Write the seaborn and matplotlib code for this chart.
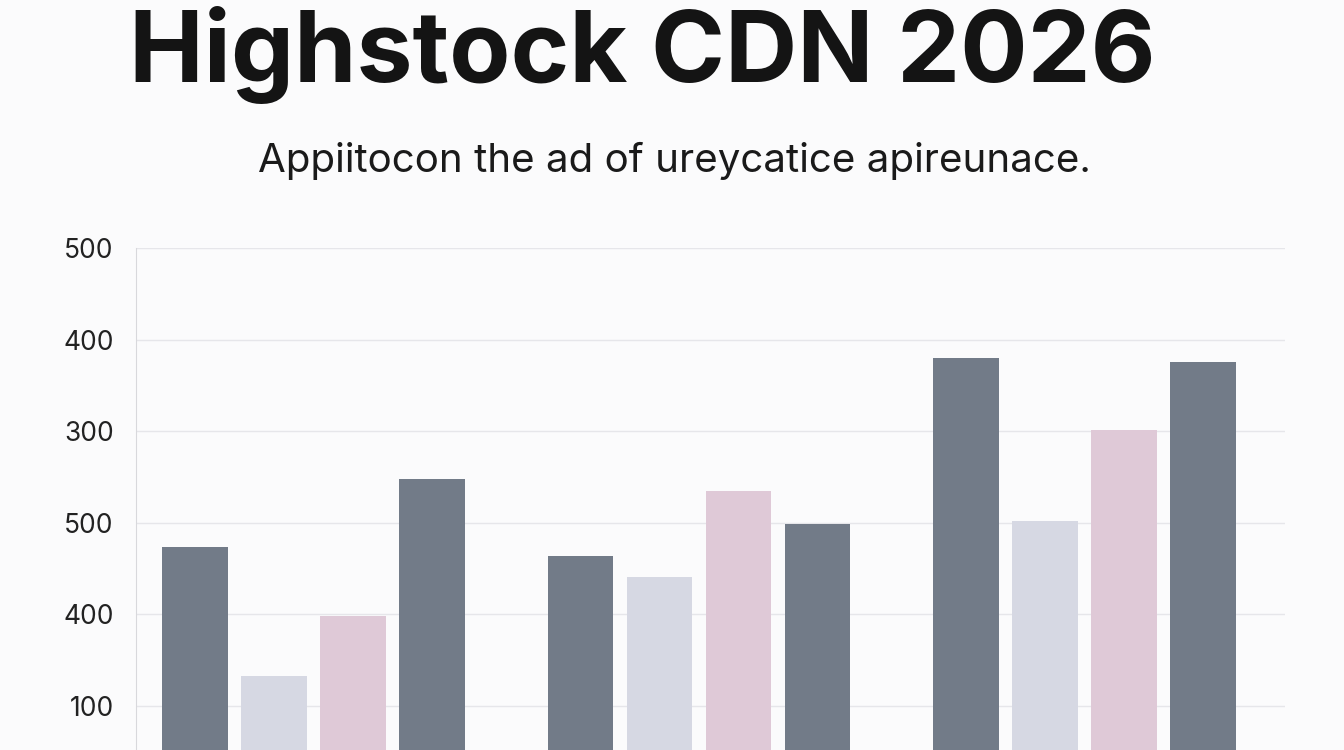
import matplotlib
matplotlib.use("Agg")
import matplotlib.pyplot as plt
import seaborn as sns
import pandas as pd

groups = ["A", "B", "C"]
series = ["S1", "S2", "S3", "S4"]
values = {
    "S1": [274, 264, 480],
    "S2": [133, 241, 302],
    "S3": [198, 335, 401],
    "S4": [348, 299, 476],
}
tick_values = [100, 200, 300, 400, 500, 600]
tick_labels = ["100", "400", "500", "300", "400", "500"]
colors = ["#6e7a8c", "#d4d7e5", "#e3c5d8", "#6e7a8c"]

rows = [(g, s, values[s][i]) for s in series for i, g in enumerate(groups)]
df = pd.DataFrame(rows, columns=["group", "series", "value"])

sns.set_style("white")
plt.rcParams["font.family"] = ["Inter", "DejaVu Sans"]
fig = plt.figure(figsize=(13.44, 7.5), dpi=100, facecolor="#fbfbfc")
ax = fig.add_axes([136/1344, 0, (1285-136)/1344, (750-248)/750])
ax.set_facecolor("#fbfbfc")
sns.barplot(data=df, x="group", y="value", hue="series", hue_order=series,
            palette=colors, width=0.82, gap=0.17, ax=ax, legend=False,
            linewidth=0)
ax.set_xlim(-0.46, 2.52)
ax.set_ylim(52, 600)
ax.set_yticks(tick_values)
ax.set_yticklabels(tick_labels, fontsize=19, color="#222222")
ax.tick_params(axis="y", length=0, pad=16)
ax.set_xticks([])
ax.set_xlabel("")
ax.set_ylabel("")
ax.yaxis.grid(True, color="#e6e6ea", linewidth=1)
ax.set_axisbelow(True)
for s in ["top", "right", "bottom"]:
    ax.spines[s].set_visible(False)
ax.spines["left"].set_color("#d8d8dc")

fig.text(0.478, 0.927, "Highstock CDN 2026", ha="center", va="center",
         fontsize=72, fontweight="bold", color="#141414")
fig.text(0.502, 0.785, "Appiitocon the ad of ureycatice apireunace.", ha="center",
         va="center", fontsize=29, color="#1a1a1a")
fig.savefig("out.png", dpi=100, facecolor=fig.get_facecolor())
